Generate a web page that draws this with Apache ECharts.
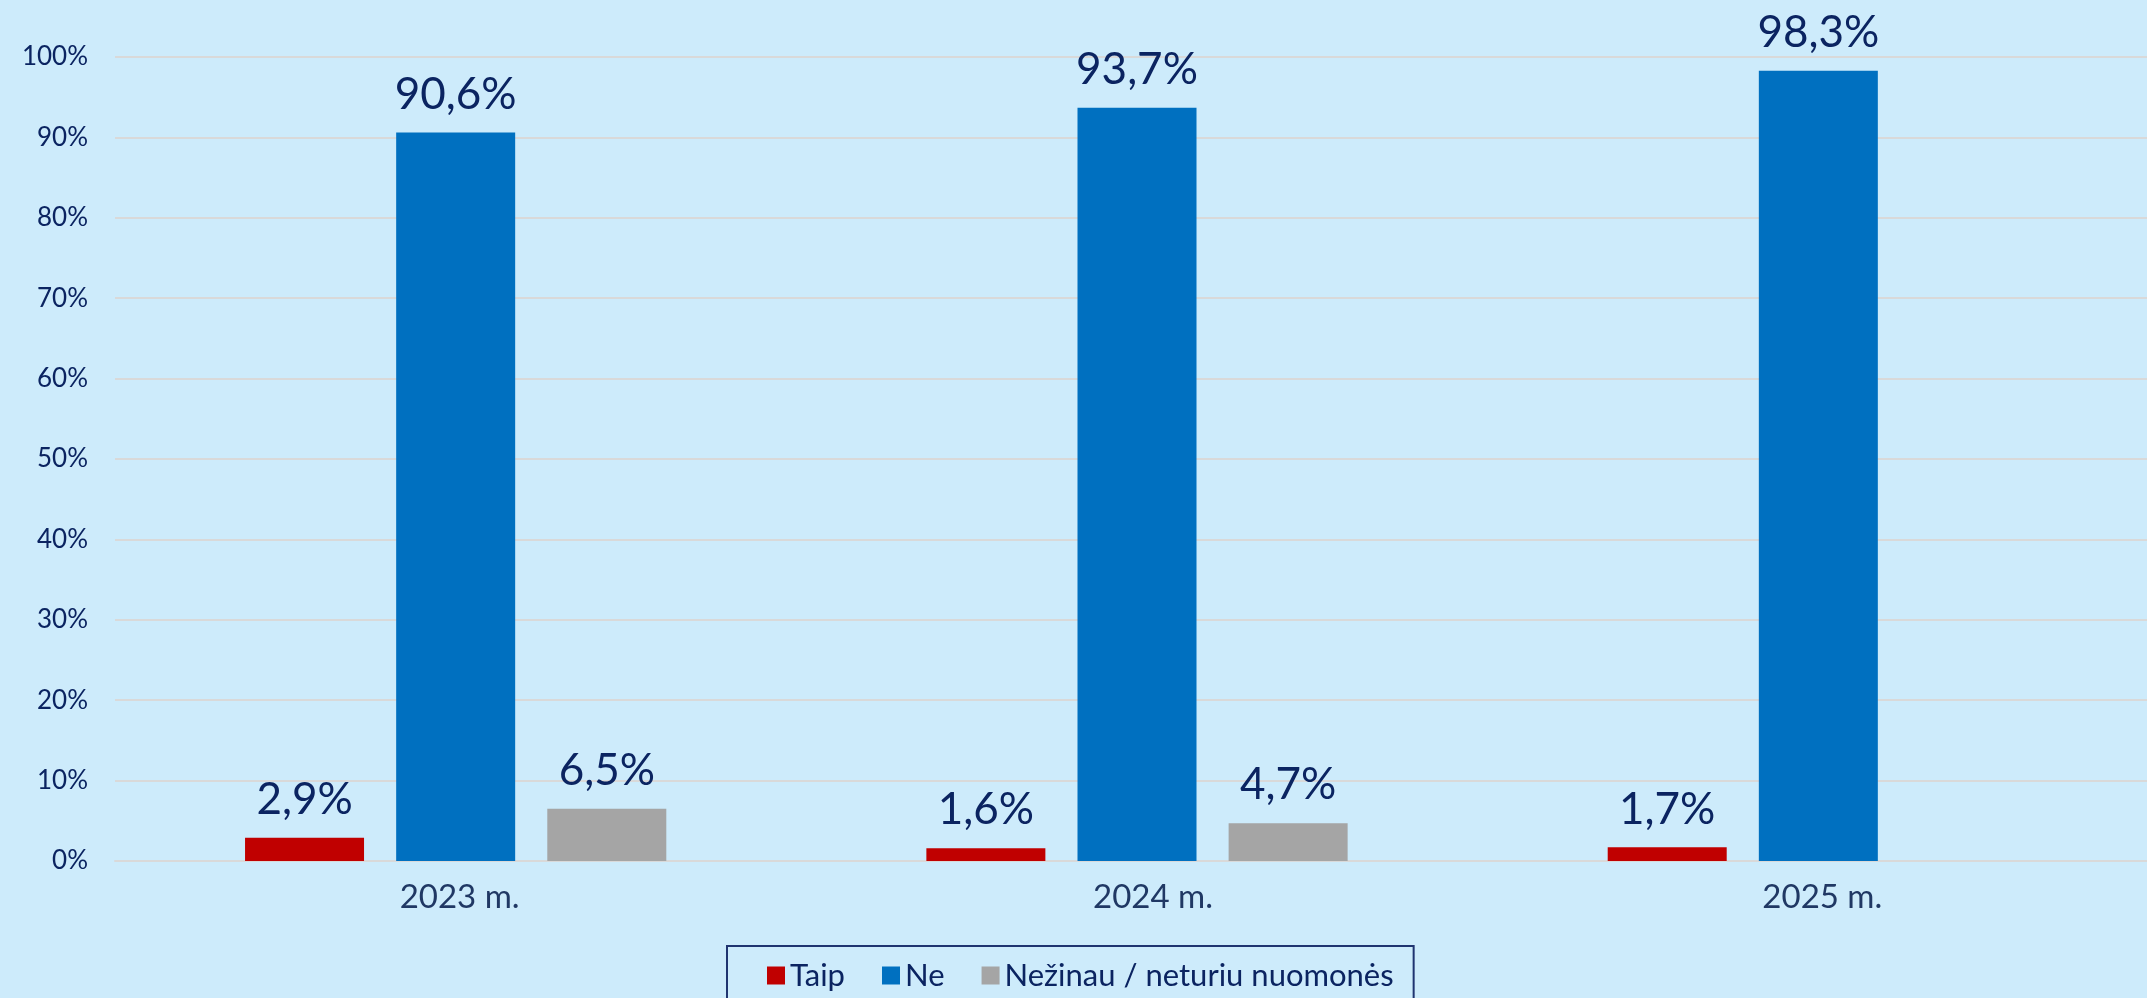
<!DOCTYPE html>
<html>
<head>
<meta charset="utf-8">
<script src="https://cdn.jsdelivr.net/npm/echarts@6/dist/echarts.min.js"></script>
<style>
html,body{margin:0;padding:0;background:#CDEBFB;overflow:hidden;}
#c{width:2162px;height:998px;}
</style>
</head>
<body>
<div id="c"></div>
<script>
const categories = ['2023 m.', '2024 m.', '2025 m.'];
const seriesNames = ['Taip', 'Ne', 'Nežinau / neturiu nuomonės'];
const taip = [2.9, 1.6, 1.7];
const ne = [90.6, 93.7, 98.3];
const nezinau = [6.5, 4.7, null];
const yTicks = [0, 10, 20, 30, 40, 50, 60, 70, 80, 90, 100];

const textColor = '#0B2461';
const catColor = '#203864';
const fontFamily = 'Lato, "Noto Sans", sans-serif';
const colors = ['#C00000', '#0070C0', '#A5A5A5'];

const chart = echarts.init(document.getElementById('c'), null, {renderer: 'canvas'});

function mkSeries(name, data, color) {
  return {
    name: name,
    type: 'bar',
    data: data,
    barWidth: 119,
    barGap: '27%',
    itemStyle: {color: color},
    label: {
      show: true,
      position: 'top',
      distance: 16,
      color: textColor,
      fontFamily: fontFamily,
      fontSize: 44,
      formatter: p => (p.value == null ? '' : p.value.toFixed(1).replace('.', ',') + '%')
    }
  };
}

// per-label horizontal nudges to mimic the source's label placement
const catPad = [[0, 0, 0, 8], [0, 0, 0, 32], [0, 0, 0, 8]];

chart.setOption({
  backgroundColor: '#CDEBFB',
  animation: false,
  textStyle: {fontFamily: fontFamily, color: textColor},
  grid: {left: 115, top: 57, right: 3, height: 804, containLabel: false},
  legend: {
    data: seriesNames,
    left: 727,
    top: 946,
    itemWidth: 18,
    itemHeight: 18,
    itemGap: 37,
    padding: [14, 20, 40, 40],
    borderColor: '#1F3470',
    borderWidth: 2,
    textStyle: {color: textColor, fontFamily: fontFamily, fontSize: 31},
    icon: 'rect'
  },
  xAxis: {
    type: 'category',
    data: categories.map((c, i) => ({value: c, textStyle: {padding: catPad[i]}})),
    axisLine: {show: true, lineStyle: {color: '#D9D9D9', width: 2}},
    axisTick: {show: false},
    axisLabel: {color: catColor, fontFamily: fontFamily, fontSize: 33, margin: 20}
  },
  yAxis: {
    type: 'value',
    min: yTicks[0],
    max: yTicks[yTicks.length - 1],
    interval: yTicks[1] - yTicks[0],
    axisLine: {show: false},
    axisTick: {show: false},
    splitLine: {lineStyle: {color: '#D9D9D9', width: 2}},
    axisLabel: {color: textColor, fontFamily: fontFamily, fontSize: 26, margin: 27, formatter: '{value}%'}
  },
  series: [
    mkSeries(seriesNames[0], taip, colors[0]),
    mkSeries(seriesNames[1], ne, colors[1]),
    mkSeries(seriesNames[2], nezinau, colors[2])
  ]
});
</script>
</body>
</html>
